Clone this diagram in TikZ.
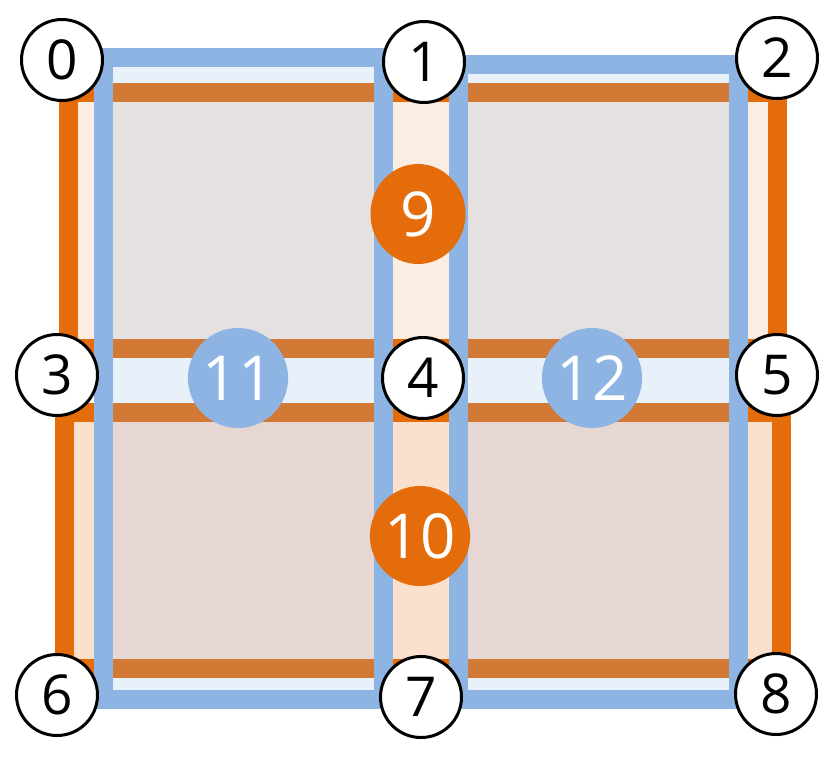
\documentclass[tikz,border=0pt]{standalone}
\usepackage{fontspec}
\setmainfont{Open Sans}
\usetikzlibrary{shapes.geometric}
\definecolor{cellorange}{HTML}{E46C0A}
\definecolor{cellblue}{HTML}{8EB4E3}
\definecolor{lightorange}{HTML}{FBEDE1}
\definecolor{paleorange}{HTML}{FCE0CE}
\tikzstyle{orangebox} = [draw=cellorange, line width=19pt]
\tikzstyle{bluebox} = [draw=cellblue, line width=19pt, fill=cellblue, fill opacity=0.2, draw opacity=1]
\tikzstyle{vertex} = [circle, draw=black, line width=3pt, fill=white, minimum size=81pt, inner sep=0pt,
  font=\fontsize{55}{60}\selectfont]
\tikzstyle{orangedot} = [ellipse, fill=cellorange, minimum width=95pt, minimum height=100pt, inner sep=0pt,
  text=white, font=\fontsize{62}{70}\selectfont]
\tikzstyle{bluedot} = [ellipse, fill=cellblue, minimum width=94pt, minimum height=100pt, inner sep=0pt,
  text=white, font=\fontsize{62}{70}\selectfont]

\begin{document}
\begin{tikzpicture}[x=1pt, y=-1pt]
  \useasboundingbox (0,0) rectangle (830,772);

  % orange cells, top and bottom
  \draw[orangebox, fill=lightorange] (68,92) rectangle (777,348);
  \draw[orangebox, fill=paleorange] (64,412) rectangle (781,668);

  % blue cells, left and right
  \draw[bluebox] (103,57) rectangle (383,699);
  \draw[bluebox] (458,64) rectangle (738,699);

  % grid points
  \node (n0) [vertex] at (62,60)  {0};
  \node (n1) [vertex] at (424,62) {1};
  \node (n2) [vertex] at (777,58) {2};
  \node (n3) [vertex] at (57,375) {3};
  \node (n4) [vertex] at (423,378) {4};
  \node (n5) [vertex] at (777,375) {5};
  \node (n6) [vertex] at (57,695) {6};
  \node (n7) [vertex] at (421,697) {7};
  \node (n8) [vertex] at (776,694) {8};

  % cell labels
  \node (c9)  [orangedot] at (418,214) {9};
  \node (c10) [orangedot] at (420,536) {10};
  \node (c11) [bluedot]   at (238,378) {11};
  \node (c12) [bluedot]   at (592,378) {12};
\end{tikzpicture}
\end{document}
